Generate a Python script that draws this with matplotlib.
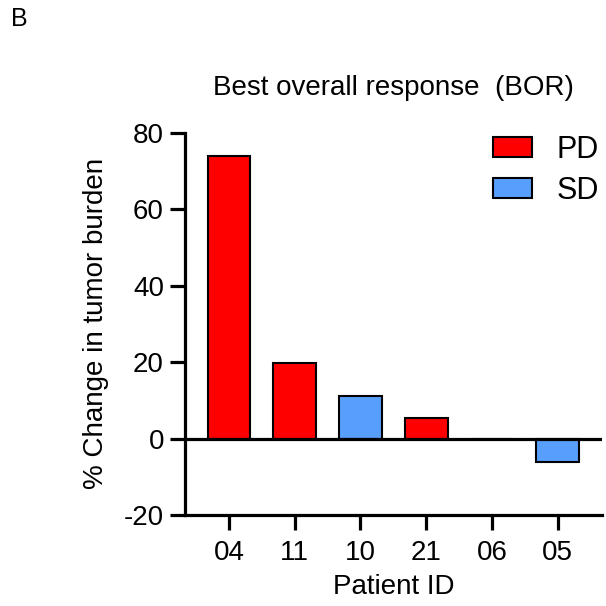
import matplotlib.pyplot as plt
import numpy as np
from matplotlib.patches import Patch

plt.rcParams['font.family'] = ['Liberation Sans', 'DejaVu Sans']
plt.rcParams['axes.unicode_minus'] = False

patients = ['04', '11', '10', '21', '06', '05']
change = [73.9, 19.9, 11.2, 5.3, 0.0, -6.0]
response = ['PD', 'PD', 'SD', 'PD', 'PD', 'SD']
colors = {'PD': '#ff0000', 'SD': '#589ffc'}

fig = plt.figure(figsize=(6.06, 6.06), dpi=100)
ax = fig.add_axes([0.305, 0.150, 0.688, 0.631])

ind = np.arange(len(patients))
bar_colors = [colors[r] for r in response]
ax.bar(ind, change, 0.65, color=bar_colors, edgecolor='black', linewidth=1.5, zorder=2)
ax.axhline(0, color='black', linewidth=2.3, zorder=3)

ax.set_xlim(-0.67, 5.67)
ax.set_ylim(-20, 80)
ax.set_yticks([-20, 0, 20, 40, 60, 80])
ax.set_xticks(ind)
ax.set_xticklabels(patients)

for s in ['top', 'right']:
    ax.spines[s].set_visible(False)
for s in ['left', 'bottom']:
    ax.spines[s].set_linewidth(2.3)
ax.tick_params(width=2.3, length=11, labelsize=20, direction='out', pad=4)
ax.tick_params(axis='x', pad=7)

ax.set_xlabel('Patient ID', fontsize=20, labelpad=6)
ax.set_ylabel('% Change in tumor burden', fontsize=20, labelpad=11)
ax.set_title('Best overall response  (BOR)', fontsize=20, pad=27)

handles = [Patch(facecolor=colors[k], edgecolor='black', linewidth=1.5, label=k) for k in ['PD', 'SD']]
ax.legend(handles=handles, loc='upper right', bbox_to_anchor=(1.038, 1.043), frameon=False,
          fontsize=22, handlelength=1.3, handleheight=0.65, handletextpad=0.8,
          labelspacing=0.37, borderaxespad=0.2)

fig.text(0.018, 0.968, 'B', fontsize=18, va='center')

fig.savefig('out.png', dpi=100)
